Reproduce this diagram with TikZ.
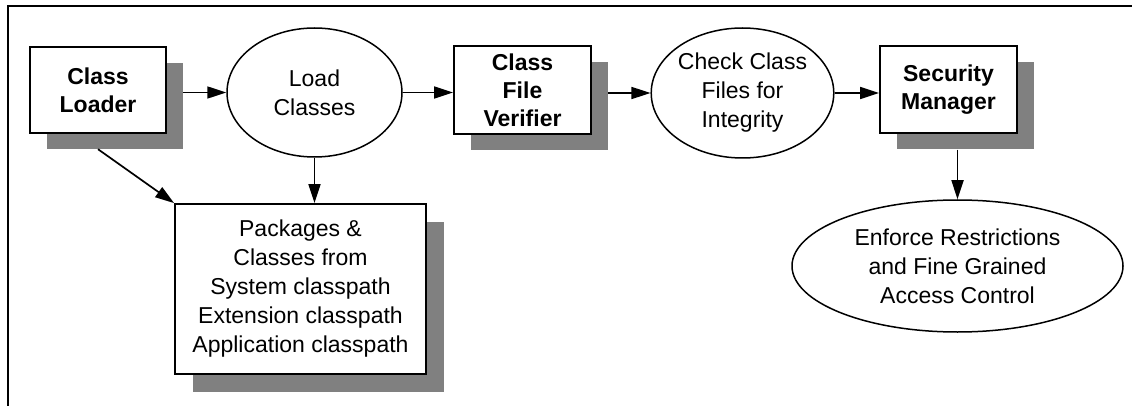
\documentclass[tikz,border=0pt]{standalone}
\usepackage{fontspec}
\setmainfont{Liberation Sans}
\usetikzlibrary{shapes.geometric,arrows.meta,calc}
\definecolor{shade}{HTML}{808080}
\begin{document}
\begin{tikzpicture}[x=1pt,y=-1pt,
  every node/.style={font=\fontsize{23}{29}\selectfont, align=center, inner sep=0pt},
  stage/.style={draw, line width=1.8pt, fill=white, rectangle, font=\fontsize{23}{28}\selectfont\bfseries},
  plainbox/.style={draw, line width=1.8pt, fill=white, rectangle},
  shadowbox/.style={fill=shade, rectangle, draw=none},
  action/.style={draw, line width=1.5pt, fill=white, ellipse},
  flow/.style={line width=1.7pt, -{Triangle[length=19pt,width=12pt]}}
]
\useasboundingbox (0,0) rectangle (1132,406);

% frame lines
\coordinate (fTL) at (8,6);
\coordinate (fTR) at (1132,6);
\coordinate (fBL) at (8,406);
\draw[line width=1.6pt] (fTR) -- (fTL) -- (fBL);

% shadows
\node[shadowbox, minimum width=136pt, minimum height=86pt] (clS) at (115,106) {};
\node[shadowbox, minimum width=137pt, minimum height=88pt] (cfvS) at (539.5,106) {};
\node[shadowbox, minimum width=137pt, minimum height=87pt] (smS) at (965.5,106) {};
\node[shadowbox, minimum width=251pt, minimum height=170pt] (pkgS) at (318,307) {};

% boxes
\node[stage, minimum width=136pt, minimum height=86pt] (cl) at (98,90) {Class\\Loader};
\node[stage, minimum width=137pt, minimum height=88pt] (cfv) at (522.5,90) {Class\\File\\Verifier};
\node[stage, minimum width=137pt, minimum height=87pt] (sm) at (948.5,89.5) {Security\\Manager};
\node[plainbox, minimum width=251pt, minimum height=170pt] (pkg) at (300.5,289)
  {Packages \&\\Classes from\\System classpath\\Extension classpath\\Application classpath};

% ellipses
\node[action, minimum width=175pt, minimum height=129pt] (lc) at (314.5,92.5) {Load\\Classes};
\node[action, minimum width=177pt, minimum height=130pt] (cci) at (742.5,93) {Check Class\\Files for\\Integrity};
\node[action, minimum width=331pt, minimum height=132pt] (enf) at (957.5,266)
  {Enforce Restrictions\\and Fine Grained\\Access Control};

% connectors
\draw[flow] (clS.east |- lc.west) -- (lc.west);
\draw[flow] (lc.east) -- (cfv.west |- lc.east);
\draw[flow] (cfvS.east |- cci.west) -- (cci.west);
\draw[flow] (cci.east) -- (sm.west |- cci.east);
\draw[flow] (enf.north |- smS.south) -- (enf.north);
\draw[flow] (lc.south) -- (lc.south |- pkg.north);
\draw[flow] (cl.center |- clS.south) -- (pkg.north west);
\end{tikzpicture}
\end{document}
